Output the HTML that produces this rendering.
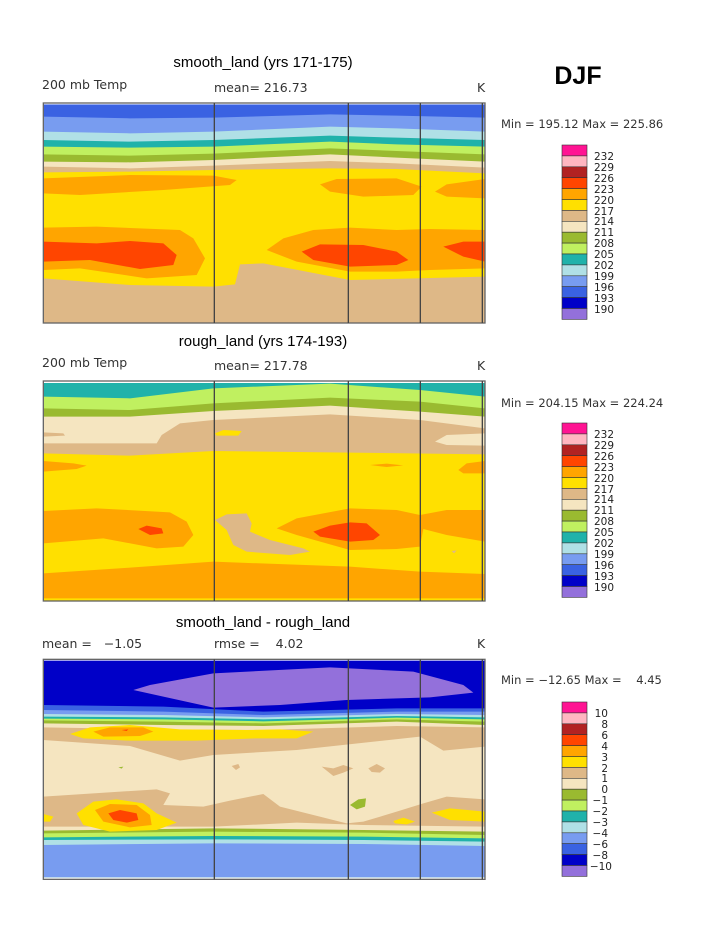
<!DOCTYPE html>
<html><head><meta charset="utf-8"><style>
html,body{margin:0;padding:0;background:#fff;}
svg{display:block;}
text{font-family:"DejaVu Sans","Liberation Sans",sans-serif;fill:#222;white-space:pre;}
.t{font-family:"Liberation Sans",sans-serif;font-size:15px;fill:#000;}
.l{font-size:12.5px;fill:#333;}
.m{font-size:11.5px;fill:#333;}
.c{font-size:10.5px;fill:#333;}
</style></head><body>
<svg width="723" height="935" viewBox="0 0 723 935" xmlns="http://www.w3.org/2000/svg" xml:space="preserve">
<rect width="723" height="935" fill="#fff"/>

<text class="t" x="263" y="67" text-anchor="middle">smooth_land (yrs 171-175)</text>
<text class="l" x="42" y="89">200 mb Temp</text>
<text class="l" x="214" y="92">mean= 216.73</text>
<text class="l" x="477" y="92">K</text>
<text x="578" y="84" text-anchor="middle" style="font-family:'Liberation Sans',sans-serif;font-weight:bold;font-size:25px;fill:#000">DJF</text>
<text class="m" x="501" y="128">Min = 195.12 Max = 225.86</text>

<text class="t" x="263" y="346" text-anchor="middle">rough_land (yrs 174-193)</text>
<text class="l" x="42" y="367">200 mb Temp</text>
<text class="l" x="214" y="370">mean= 217.78</text>
<text class="l" x="477" y="370">K</text>
<text class="m" x="501" y="407">Min = 204.15 Max = 224.24</text>

<text class="t" x="263" y="627" text-anchor="middle">smooth_land - rough_land</text>
<text class="l" x="42" y="648">mean =   −1.05</text>
<text class="l" x="214" y="648">rmse =    4.02</text>
<text class="l" x="477" y="648">K</text>
<text class="m" x="501" y="684">Min = −12.65 Max =    4.45</text>

<g id="cb1" transform="translate(562,145)" stroke="#333" stroke-width="0.6">
<rect y="0" width="25" height="10.9" fill="#ff1493"/>
<rect y="10.9" width="25" height="10.9" fill="#ffb6c1"/>
<rect y="21.8" width="25" height="10.9" fill="#b22222"/>
<rect y="32.7" width="25" height="10.9" fill="#ff4500"/>
<rect y="43.6" width="25" height="10.9" fill="#ffa500"/>
<rect y="54.5" width="25" height="10.9" fill="#ffe000"/>
<rect y="65.4" width="25" height="10.9" fill="#deb887"/>
<rect y="76.3" width="25" height="10.9" fill="#f5e5c0"/>
<rect y="87.2" width="25" height="10.9" fill="#9aba30"/>
<rect y="98.1" width="25" height="10.9" fill="#c0f060"/>
<rect y="109" width="25" height="10.9" fill="#20b2aa"/>
<rect y="119.9" width="25" height="10.9" fill="#b0e0e6"/>
<rect y="130.8" width="25" height="10.9" fill="#789cf0"/>
<rect y="141.7" width="25" height="10.9" fill="#3a62e2"/>
<rect y="152.6" width="25" height="10.9" fill="#0000c8"/>
<rect y="163.5" width="25" height="10.9" fill="#9370db"/>
</g>
<use href="#cb1" transform="translate(0,278)"/>
<use href="#cb1" transform="translate(0,557)"/>
<g class="c" text-anchor="end">
<g font-size="10.5">
<text x="614" y="160">232</text><text x="614" y="171">229</text><text x="614" y="182">226</text><text x="614" y="193">223</text><text x="614" y="204">220</text><text x="614" y="215">217</text><text x="614" y="225">214</text><text x="614" y="236">211</text><text x="614" y="247">208</text><text x="614" y="258">205</text><text x="614" y="269">202</text><text x="614" y="280">199</text><text x="614" y="291">196</text><text x="614" y="302">193</text><text x="614" y="313">190</text>
<text x="614" y="438">232</text><text x="614" y="449">229</text><text x="614" y="460">226</text><text x="614" y="471">223</text><text x="614" y="482">220</text><text x="614" y="493">217</text><text x="614" y="503">214</text><text x="614" y="514">211</text><text x="614" y="525">208</text><text x="614" y="536">205</text><text x="614" y="547">202</text><text x="614" y="558">199</text><text x="614" y="569">196</text><text x="614" y="580">193</text><text x="614" y="591">190</text>
<text x="608" y="717">10</text><text x="608" y="728">8</text><text x="608" y="739">6</text><text x="608" y="750">4</text><text x="608" y="761">3</text><text x="608" y="772">2</text><text x="608" y="782">1</text><text x="608" y="793">0</text><text x="608" y="804">−1</text><text x="608" y="815">−2</text><text x="608" y="826">−3</text><text x="608" y="837">−4</text><text x="608" y="848">−6</text><text x="608" y="859">−8</text><text x="612" y="870">−10</text>
</g></g>

<g transform="translate(30,95) scale(0.33333)">
<clipPath id="c1"><rect x="40" y="28" width="1325" height="655"/></clipPath>
<g clip-path="url(#c1)">
<rect x="40" y="28" width="1325" height="655" fill="#3a62e2"/>
<path d="M40,65 L300,70 L550,68 L900,58 L1100,62 L1365,68 V683 H40Z" fill="#789cf0"/>
<path d="M40,110 L300,115 L550,110 L900,95 L1100,100 L1365,110 V683 H40Z" fill="#b0e0e6"/>
<path d="M40,135 L300,140 L550,135 L900,122 L1100,128 L1365,135 V683 H40Z" fill="#20b2aa"/>
<path d="M40,155 L300,158 L550,155 L900,140 L1100,148 L1365,155 V683 H40Z" fill="#c0f060"/>
<path d="M40,178 L300,182 L550,176 L900,160 L1100,168 L1365,178 V683 H40Z" fill="#9aba30"/>
<path d="M40,200 L300,202 L550,195 L900,178 L1100,188 L1365,200 V683 H40Z" fill="#f5e5c0"/>
<path d="M40,215 L300,220 L550,212 L900,198 L1100,205 L1365,218 V683 H40Z" fill="#deb887"/>
<path d="M40,232 L300,230 L550,225 L900,220 L1100,222 L1365,235 V683 H40Z" fill="#ffe000"/>
<path d="M40,250 L300,240 L550,242 L620,255 L600,270 L400,285 L150,300 L40,295Z" fill="#ffa500"/>
<path d="M870,268 L920,252 L1100,250 L1175,275 L1150,300 L1000,305 L900,290Z" fill="#ffa500"/>
<path d="M1215,290 L1250,268 L1365,252 V310 L1250,305Z" fill="#ffa500"/>
<path d="M40,398 L200,395 L450,405 L490,430 L525,490 L500,540 L350,550 L150,520 L40,525Z" fill="#ffa500"/>
<path d="M710,465 L760,430 L850,405 L960,398 L1100,405 L1200,402 L1365,405 V520 L1200,525 L1100,530 L960,530 L800,500Z" fill="#ffa500"/>
<path d="M40,440 L200,445 L300,438 L400,445 L440,480 L430,510 L330,522 L180,495 L40,500Z" fill="#ff4500"/>
<path d="M815,470 L870,448 L1000,450 L1100,470 L1135,495 L1100,510 L960,515 L850,495Z" fill="#ff4500"/>
<path d="M1240,455 L1300,440 L1365,440 V500 L1300,485Z" fill="#ff4500"/>
<path d="M40,550 L300,570 L550,575 L615,568 L630,508 L700,505 L960,555 L1365,545 V683 H40Z" fill="#deb887"/>
</g>
<rect x="40" y="24" width="1325" height="660" fill="none" stroke="#666" stroke-width="4"/>
<path d="M553,24V684 M955,24V684 M1171,24V684 M1357,24V684" stroke="#444" stroke-width="4"/>
</g>

<g transform="translate(30,375) scale(0.33333)">
<clipPath id="c2"><rect x="40" y="24" width="1325" height="654"/></clipPath>
<g clip-path="url(#c2)">
<rect x="40" y="20" width="1325" height="660" fill="#20b2aa"/>
<path d="M40,65 L300,70 L550,40 L900,26 L1170,45 L1365,65 V683 H40Z" fill="#c0f060"/>
<path d="M40,100 L300,105 L550,85 L900,68 L1170,80 L1365,100 V683 H40Z" fill="#9aba30"/>
<path d="M40,125 L300,125 L550,108 L900,92 L1170,110 L1365,125 V683 H40Z" fill="#f5e5c0"/>
<path d="M40,205 L380,205 L395,180 L450,145 L550,135 L900,118 L1170,135 L1365,160 V683 H40Z" fill="#deb887"/>
<path d="M40,172 L100,175 L105,182 L40,185Z" fill="#deb887"/>
<path d="M1215,200 L1250,180 L1365,175 V212 L1250,210Z" fill="#f5e5c0"/>
<path d="M555,175 L580,165 L635,168 L625,182 L560,182Z" fill="#ffe000"/>
<path d="M40,235 L300,242 L550,228 L900,232 L1365,238 V683 H40Z" fill="#ffe000"/>
<path d="M40,258 L130,265 L170,272 L140,282 L40,290Z" fill="#ffa500"/>
<path d="M1020,270 L1070,266 L1120,271 L1070,276Z" fill="#ffa500"/>
<path d="M1285,285 L1310,265 L1365,258 V295 L1300,295Z" fill="#ffa500"/>
<path d="M40,408 L200,400 L420,412 L470,440 L490,480 L460,515 L380,520 L220,490 L40,505Z" fill="#ffa500"/>
<path d="M740,460 L800,430 L960,400 L1100,405 L1170,420 L1250,405 L1365,405 V500 L1250,480 L1180,462 L1170,515 L1100,522 L960,525 L800,480Z" fill="#ffa500"/>
<path d="M325,462 L350,452 L395,460 L400,475 L360,480Z" fill="#ff4500"/>
<path d="M850,470 L900,452 L960,442 L1010,445 L1050,480 L1030,495 L960,500 L870,485Z" fill="#ff4500"/>
<path d="M555,435 L590,418 L650,415 L665,445 L660,470 L720,495 L820,520 L840,530 L780,540 L650,530 L610,510 L590,465Z" fill="#deb887"/>
<path d="M1265,528 L1280,526 L1272,535Z" fill="#deb887"/>
<path d="M40,595 L300,578 L550,560 L960,575 L1170,590 L1365,597 V670 H40Z" fill="#ffa500"/>
</g>
<rect x="40" y="18" width="1325" height="660" fill="none" stroke="#666" stroke-width="4"/>
<path d="M553,18V678 M955,18V678 M1171,18V678 M1357,18V678" stroke="#444" stroke-width="4"/>
</g>

<g transform="translate(30,640) scale(0.33333)">
<clipPath id="c3"><rect x="40" y="62" width="1325" height="650"/></clipPath>
<g clip-path="url(#c3)">
<rect x="40" y="60" width="1325" height="660" fill="#0000c8"/>
<path d="M310,150 L360,135 L550,100 L900,82 L1150,95 L1300,135 L1330,158 L1200,172 L950,180 L750,195 L550,203 L400,170Z" fill="#9370db"/>
<path d="M40,195 L400,200 L700,215 L1100,205 L1365,205 V712 H40Z" fill="#3a62e2"/>
<path d="M40,210 L400,215 L700,225 L1100,215 L1365,215 V712 H40Z" fill="#789cf0"/>
<path d="M40,222 L400,225 L700,232 L1100,222 L1365,225 V712 H40Z" fill="#b0e0e6"/>
<path d="M40,230 L400,232 L700,238 L1100,228 L1365,232 V712 H40Z" fill="#20b2aa"/>
<path d="M40,236 L400,238 L700,244 L1100,233 L1365,238 V712 H40Z" fill="#c0f060"/>
<path d="M40,241 L400,245 L700,250 L1100,238 L1365,245 V712 H40Z" fill="#9aba30"/>
<path d="M40,250 L400,255 L700,258 L1100,245 L1365,255 V712 H40Z" fill="#f5e5c0"/>
<path d="M40,262 L400,268 L700,270 L1100,258 L1365,262 V712 H40Z" fill="#deb887"/>
<path d="M40,300 L300,318 L450,362 L550,345 L800,330 L1170,290 L1240,332 L1365,320 V712 H40Z" fill="#f5e5c0"/>
<path d="M40,470 L380,448 L420,460 L400,495 L520,500 L600,482 L700,462 L750,500 L850,525 L950,550 L1000,545 L1100,515 L1180,490 L1250,470 L1365,478 V712 H40Z" fill="#deb887"/>
<path d="M40,560 L550,560 L800,548 L1000,555 L1365,560 V712 H40Z" fill="#f5e5c0"/>
<path d="M40,572 L550,565 L1000,570 L1365,575 V712 H40Z" fill="#9aba30"/>
<path d="M40,580 L550,575 L1000,578 L1365,585 V712 H40Z" fill="#c0f060"/>
<path d="M40,592 L550,588 L1000,590 L1365,595 V712 H40Z" fill="#20b2aa"/>
<path d="M40,600 L550,598 L1000,600 L1365,605 V712 H40Z" fill="#b0e0e6"/>
<path d="M40,615 L550,610 L1000,612 L1365,618 V712 H40Z" fill="#789cf0"/>
<path d="M120,282 L180,262 L300,255 L450,268 L650,270 L750,268 L850,275 L800,295 L680,295 L500,302 L300,302 L160,295Z" fill="#ffe000"/>
<path d="M190,275 L240,262 L340,262 L370,275 L330,288 L220,290Z" fill="#ffa500"/>
<path d="M275,270 L295,268 L290,273Z" fill="#ff4500"/>
<path d="M140,520 L190,485 L260,478 L340,490 L380,520 L440,548 L380,570 L240,575 L160,555Z" fill="#ffe000"/>
<path d="M195,510 L240,492 L320,495 L360,525 L365,555 L300,562 L220,545Z" fill="#ffa500"/>
<path d="M235,520 L270,510 L320,520 L325,540 L290,548 L250,540Z" fill="#ff4500"/>
<path d="M1205,518 L1260,505 L1365,515 V545 L1260,540Z" fill="#ffe000"/>
<path d="M1090,543 L1120,533 L1155,545 L1130,553 L1095,550Z" fill="#ffe000"/>
<path d="M40,522 L70,530 L60,545 L40,545Z" fill="#ffe000"/>
<path d="M960,495 L985,478 L1008,475 L1005,500 L980,508Z" fill="#9aba30"/>
<path d="M265,382 L280,380 L275,386Z" fill="#9aba30"/>
<path d="M605,378 L625,372 L630,382 L618,390Z" fill="#deb887"/>
<path d="M875,380 L910,385 L940,375 L970,385 L940,398 L910,408Z" fill="#deb887"/>
<path d="M1015,385 L1040,372 L1065,385 L1050,398 L1025,396Z" fill="#deb887"/>
</g>
<rect x="40" y="58" width="1325" height="660" fill="none" stroke="#666" stroke-width="4"/>
<path d="M553,58V718 M955,58V718 M1171,58V718 M1357,58V718" stroke="#444" stroke-width="4"/>
</g>
</svg>
</body></html>
